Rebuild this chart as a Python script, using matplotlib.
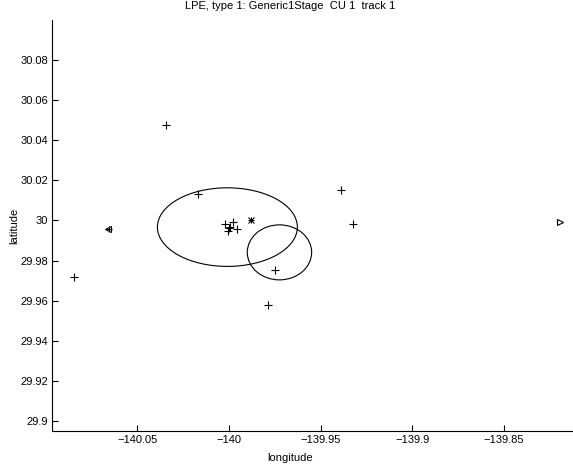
import matplotlib
matplotlib.use("Agg")
import matplotlib.pyplot as plt
from matplotlib.patches import Ellipse

plt.rcParams['font.family'] = ['Liberation Sans', 'DejaVu Sans']

# single-stage fixes (plus markers)
fix_lon = [-140.0344, -140.0845, -140.0167, -140.0022, -139.9977, -140.0007,
           -139.9958, -139.9995, -140.0000, -139.9750, -139.9787, -139.9390, -139.9324]
fix_lat = [30.0476, 29.9717, 30.0130, 29.9982, 29.9994, 29.9949,
           29.9957, 29.9969, 29.9961, 29.9754, 29.9580, 30.0150, 29.9980]

# combined estimate
est_lon, est_lat = -139.9880, 30.0002

# start / truth markers
start_lon, start_lat = -140.0658, 29.9957
truth_lon, truth_lat = -139.8195, 29.9994

# error ellipses: center lon, center lat, semi-axis lon, semi-axis lat
ell_lon = [-140.0009, -139.9725]
ell_lat = [29.9967, 29.9841]
ell_a = [0.03817, 0.01756]
ell_b = [0.01960, 0.01372]

W, H = 573, 465
fig = plt.figure(figsize=(W / 100, H / 100), dpi=100)
ax = fig.add_axes([52.3 / W, 34 / H, 1 - 52.3 / W, 411 / H])

ax.plot(fix_lon, fix_lat, '+', color='black', markersize=6, markeredgewidth=0.8)
# asterisk = plus + cross
ax.plot(est_lon, est_lat, '+', color='black', markersize=5, markeredgewidth=0.8)
ax.plot(est_lon, est_lat, 'x', color='black', markersize=4, markeredgewidth=0.8)
ax.plot(start_lon, start_lat, '<', color='black', markersize=5, markerfacecolor='none',
        markeredgewidth=0.8)
ax.plot(start_lon + 0.0003, start_lat, '+', color='black', markersize=5, markeredgewidth=0.8)
ax.plot(truth_lon, truth_lat, '>', color='black', markersize=5, markerfacecolor='none',
        markeredgewidth=0.8)

for cx, cy, a, b in zip(ell_lon, ell_lat, ell_a, ell_b):
    ax.add_patch(Ellipse((cx, cy), 2 * a, 2 * b, fill=False, edgecolor='black', linewidth=0.8))

ax.set_xlim(-140.0964, -139.8124)
ax.set_ylim(29.895, 30.1)
ax.set_xticks([-140.05, -140, -139.95, -139.9, -139.85])
ax.set_xticklabels(['\u2212140.05', '\u2212140', '\u2212139.95', '\u2212139.9', '\u2212139.85'])
ax.set_yticks([29.9, 29.92, 29.94, 29.96, 29.98, 30, 30.02, 30.04, 30.06, 30.08])
ax.set_yticklabels(['29.9', '29.92', '29.94', '29.96', '29.98', '30', '30.02', '30.04',
                    '30.06', '30.08'])
ax.tick_params(direction='in', length=4, width=0.8, labelsize=8, pad=3)
for s in ['top', 'right']:
    ax.spines[s].set_visible(False)
for s in ['left', 'bottom']:
    ax.spines[s].set_linewidth(0.8)

tx = (290 - 52.3) / (W - 52.3)
ax.set_title('LPE, type 1: Generic1Stage  CU 1  track 1', fontsize=8, x=tx, pad=8)
ax.set_xlabel('longitude', fontsize=8)
ax.xaxis.set_label_coords(tx, -0.053)
ax.set_ylabel('latitude', fontsize=8)
ax.yaxis.set_label_coords(-0.063, 0.5)

fig.savefig('out.png', dpi=100)
